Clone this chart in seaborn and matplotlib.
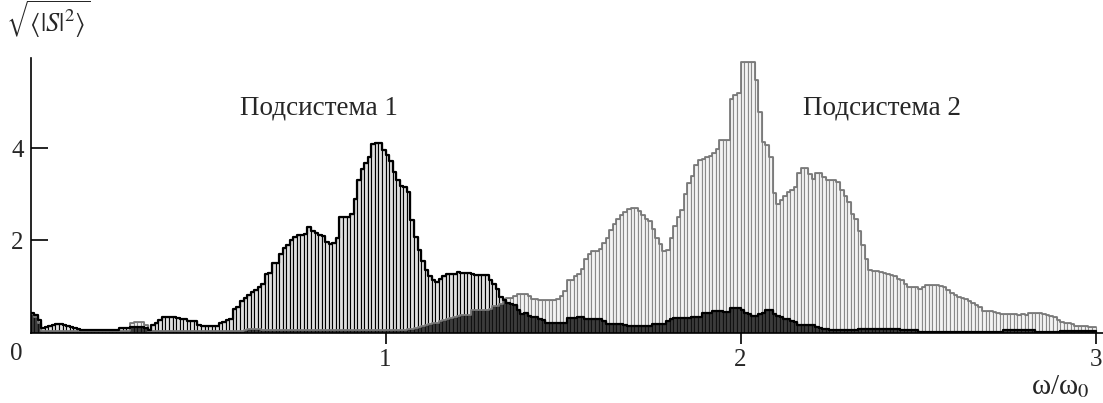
import numpy as np
import pandas as pd
import seaborn as sns
import matplotlib
matplotlib.use("Agg")
import matplotlib.pyplot as plt

# spectrum sampled in bins of 0.01 * omega0, from 0 to 3
bin_width = 0.01

# subsystem 1 (black outline)
s1 = [
    0.42, 0.38, 0.27, 0.10, 0.12, 0.14, 0.17, 0.19, 0.18, 0.17,
    0.15, 0.12, 0.10, 0.07, 0.065, 0.065, 0.065, 0.065, 0.065, 0.065,
    0.065, 0.065, 0.065, 0.065, 0.065, 0.11, 0.11, 0.11, 0.13, 0.13,
    0.13, 0.13, 0.11, 0.06, 0.17, 0.22, 0.27, 0.33, 0.35, 0.35,
    0.35, 0.31, 0.29, 0.29, 0.26, 0.26, 0.26, 0.17, 0.15, 0.15,
    0.15, 0.15, 0.15, 0.20, 0.24, 0.27, 0.29, 0.51, 0.55, 0.69,
    0.76, 0.82, 0.88, 0.93, 0.98, 1.05, 1.27, 1.30, 1.52, 1.52,
    1.70, 1.83, 1.90, 2.00, 2.08, 2.12, 2.12, 2.13, 2.29, 2.20,
    2.15, 2.12, 2.09, 1.97, 1.93, 1.95, 2.05, 2.50, 2.50, 2.50,
    2.58, 2.90, 3.30, 3.55, 3.67, 3.80, 4.08, 4.10, 4.10, 3.95,
    3.85, 3.72, 3.48, 3.30, 3.17, 3.15, 3.05, 2.44, 2.08, 1.80,
    1.55, 1.35, 1.22, 1.15, 1.10, 1.16, 1.22, 1.27, 1.28, 1.28,
    1.31, 1.30, 1.30, 1.30, 1.27, 1.26, 1.26, 1.26, 1.24, 1.15,
    1.05, 0.95, 0.78, 0.70, 0.65, 0.62, 0.60, 0.50, 0.40, 0.42,
    0.36, 0.34, 0.33, 0.30, 0.27, 0.22, 0.22, 0.22, 0.22, 0.22,
    0.22, 0.32, 0.32, 0.32, 0.33, 0.35, 0.30, 0.29, 0.29, 0.29,
    0.29, 0.26, 0.19, 0.19, 0.19, 0.19, 0.19, 0.17, 0.14, 0.14,
    0.14, 0.14, 0.14, 0.14, 0.14, 0.18, 0.19, 0.19, 0.19, 0.25,
    0.30, 0.32, 0.32, 0.31, 0.31, 0.31, 0.35, 0.35, 0.35, 0.42,
    0.42, 0.42, 0.48, 0.48, 0.47, 0.45, 0.45, 0.54, 0.54, 0.54,
    0.50, 0.43, 0.40, 0.37, 0.37, 0.40, 0.42, 0.49, 0.49, 0.40,
    0.36, 0.35, 0.30, 0.29, 0.25, 0.24, 0.16, 0.16, 0.16, 0.16,
    0.16, 0.13, 0.11, 0.09, 0.08, 0.06, 0.06, 0.06, 0.06, 0.06,
    0.06, 0.06, 0.06, 0.08, 0.08, 0.08, 0.08, 0.08, 0.08, 0.08,
    0.08, 0.08, 0.08, 0.08, 0.08, 0.05, 0.05, 0.05, 0.05, 0.05,
    0.02, 0.02, 0.02, 0.02, 0.02, 0.02, 0.02, 0.02, 0.02, 0.02,
    0.02, 0.02, 0.02, 0.02, 0.02, 0.02, 0.02, 0.02, 0.02, 0.02,
    0.02, 0.02, 0.02, 0.02, 0.06, 0.06, 0.06, 0.06, 0.06, 0.06,
    0.06, 0.06, 0.06, 0.02, 0.02, 0.02, 0.02, 0.02, 0.02, 0.02,
    0.04, 0.04, 0.04, 0.04, 0.04, 0.04, 0.04, 0.04, 0.04, 0.04,
]

# subsystem 2 (grey outline)
s2 = [
    0.40, 0.34, 0.20, 0.04, 0.04, 0.04, 0.04, 0.04, 0.04, 0.04,
    0.04, 0.04, 0.04, 0.04, 0.04, 0.04, 0.04, 0.04, 0.04, 0.04,
    0.04, 0.04, 0.04, 0.04, 0.04, 0.04, 0.04, 0.04, 0.20, 0.24,
    0.24, 0.24, 0.17, 0.04, 0.04, 0.04, 0.04, 0.04, 0.04, 0.04,
    0.04, 0.04, 0.04, 0.04, 0.04, 0.04, 0.04, 0.04, 0.04, 0.04,
    0.04, 0.04, 0.04, 0.04, 0.04, 0.04, 0.04, 0.04, 0.04, 0.04,
    0.06, 0.08, 0.08, 0.09, 0.08, 0.06, 0.05, 0.05, 0.05, 0.05,
    0.05, 0.05, 0.05, 0.05, 0.05, 0.05, 0.05, 0.05, 0.05, 0.05,
    0.05, 0.05, 0.05, 0.05, 0.05, 0.05, 0.05, 0.05, 0.05, 0.05,
    0.05, 0.05, 0.05, 0.05, 0.05, 0.05, 0.05, 0.05, 0.05, 0.05,
    0.05, 0.05, 0.05, 0.05, 0.05, 0.06, 0.07, 0.08, 0.10, 0.12,
    0.14, 0.17, 0.19, 0.20, 0.22, 0.26, 0.28, 0.30, 0.32, 0.34,
    0.36, 0.38, 0.38, 0.38, 0.49, 0.49, 0.49, 0.49, 0.49, 0.52,
    0.58, 0.58, 0.62, 0.72, 0.76, 0.76, 0.80, 0.83, 0.83, 0.83,
    0.80, 0.72, 0.72, 0.71, 0.71, 0.71, 0.71, 0.71, 0.73, 0.80,
    0.90, 1.14, 1.14, 1.22, 1.28, 1.37, 1.60, 1.70, 1.77, 1.77,
    1.82, 1.95, 2.05, 2.22, 2.36, 2.47, 2.55, 2.62, 2.68, 2.70,
    2.70, 2.64, 2.55, 2.47, 2.42, 2.25, 2.05, 1.93, 1.78, 1.80,
    2.05, 2.30, 2.50, 2.65, 3.00, 3.25, 3.40, 3.63, 3.74, 3.77,
    3.81, 3.83, 3.90, 3.97, 4.18, 4.18, 4.18, 5.07, 5.15, 5.20,
    5.87, 5.87, 5.87, 5.87, 5.47, 4.78, 4.13, 4.06, 3.81, 3.02,
    2.79, 2.88, 2.96, 3.05, 3.10, 3.16, 3.45, 3.56, 3.56, 3.43,
    3.32, 3.45, 3.45, 3.38, 3.30, 3.30, 3.30, 3.27, 3.10, 2.95,
    2.84, 2.58, 2.47, 2.20, 1.90, 1.60, 1.36, 1.34, 1.34, 1.32,
    1.30, 1.28, 1.25, 1.22, 1.17, 1.14, 1.05, 1.00, 0.98, 0.98,
    0.95, 0.98, 1.04, 1.04, 1.04, 1.04, 1.02, 0.98, 0.93, 0.87,
    0.82, 0.78, 0.76, 0.72, 0.69, 0.65, 0.60, 0.55, 0.48, 0.48,
    0.47, 0.44, 0.42, 0.40, 0.40, 0.40, 0.40, 0.40, 0.38, 0.40,
    0.38, 0.43, 0.43, 0.43, 0.43, 0.41, 0.39, 0.37, 0.33, 0.27,
    0.24, 0.22, 0.22, 0.19, 0.15, 0.15, 0.15, 0.15, 0.13, 0.13,
]

x_ticks = [1, 2, 3]
y_ticks = [2, 4]
label1 = "Подсистема 1"
label2 = "Подсистема 2"

n_bins = len(s1)
x_max = n_bins * bin_width
df = pd.DataFrame({
    "omega": (np.arange(n_bins) + 0.5) * bin_width,
    "s1": s1,
    "s2": s2,
})
df["overlap"] = np.minimum(df["s1"], df["s2"])

sns.set_style("ticks")
plt.rcParams["font.family"] = ["Liberation Serif", "DejaVu Serif"]
plt.rcParams["mathtext.fontset"] = "stix"

fig = plt.figure(figsize=(11.03, 4.03), dpi=100)
ax = fig.add_axes([0.0277, 0.1745, 0.972, 0.6816])

hist_kw = dict(data=df, x="omega", bins=n_bins, binrange=(0, x_max), ax=ax)

# subsystem 2 bars + outline
sns.histplot(weights="s2", element="bars", fill=True, color="#f4f4f4",
             edgecolor="#8a8a8a", linewidth=0.8, alpha=1, **hist_kw)
sns.histplot(weights="s2", element="step", fill=False, color="#7a7a7a",
             linewidth=1.3, **hist_kw)
# subsystem 1 bars + outline
sns.histplot(weights="s1", element="bars", fill=True, color="#e0e0e0",
             edgecolor="black", linewidth=0.8, alpha=1, **hist_kw)
sns.histplot(weights="s1", element="step", fill=False, color="black",
             linewidth=1.6, **hist_kw)
# common part of both spectra
sns.histplot(weights="overlap", element="bars", fill=True, color="#3c3c3c",
             edgecolor="#111111", linewidth=0.8, alpha=1, **hist_kw)

ax.set_xlim(0, 3.02)
ax.set_ylim(0, 5.95)
ax.set_xlabel("")
ax.set_ylabel("")
ax.set_xticks(x_ticks)
ax.set_xticklabels([str(t) for t in x_ticks])
ax.set_yticks(y_ticks)
ax.set_yticklabels([str(t) for t in y_ticks])
ax.tick_params(axis="x", direction="out", length=8, width=1.2, pad=4,
               labelsize=18, color="black")
ax.tick_params(axis="y", direction="in", length=12, width=1.2, pad=5,
               labelsize=18, color="black")
sns.despine(ax=ax)
for side in ["left", "bottom"]:
    ax.spines[side].set_linewidth(1.2)
    ax.spines[side].set_color("black")

ax.annotate("0", xy=(0, 0), xycoords="data", xytext=(-14, -21),
            textcoords="offset pixels", ha="center", va="center", fontsize=18)

fig.text(0.0435, 0.953, r"$\sqrt{\langle |S|^2 \rangle}$", ha="center",
         va="center", fontsize=19)
fig.text(0.961, 0.04, r"ω/ω$_0$", ha="center", va="center", fontsize=21)
fig.text(0.289, 0.732, label1, ha="center", va="center", fontsize=19.5)
fig.text(0.800, 0.732, label2, ha="center", va="center", fontsize=19.5)

fig.savefig("out.png", dpi=100)
